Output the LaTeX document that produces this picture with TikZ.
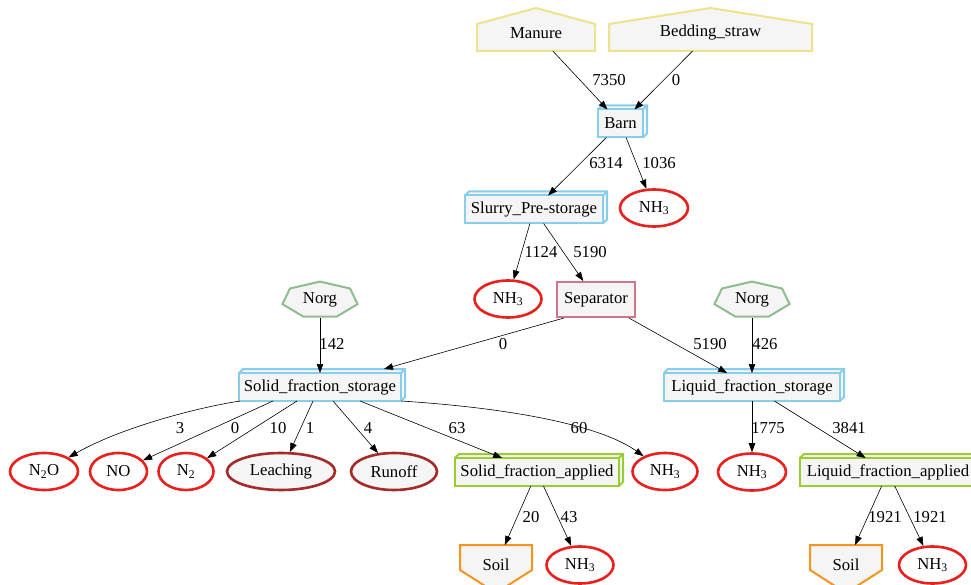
\documentclass[tikz,border=0pt]{standalone}
\usepackage{fontspec}
\setmainfont{Liberation Serif}
\usetikzlibrary{shapes.geometric,arrows.meta,backgrounds,calc}

\definecolor{bgfill}{HTML}{F5F5F5}
\definecolor{housecol}{HTML}{EDE38C}
\definecolor{boxblue}{HTML}{87CEEB}
\definecolor{greenbox}{HTML}{9ACD32}
\definecolor{nhred}{HTML}{E8201E}
\definecolor{brownred}{HTML}{A52A2A}
\definecolor{soilorange}{HTML}{F7941D}
\definecolor{norggreen}{HTML}{8FBC8F}
\definecolor{seppink}{HTML}{D0758E}

\begin{document}
\begin{tikzpicture}[x=1pt,y=-1pt,
  every node/.style={font=\fontsize{16.7}{20}\selectfont},
  lbl/.style={inner sep=0pt},
  flow/.style={draw=black, line width=0.6pt, -{Triangle[length=9pt,width=6.5pt]}},
  box3d/.style={rectangle, draw=#1, line width=2pt, fill=bgfill, inner sep=0pt,
                outer sep=0pt, minimum height=28pt},
  sink/.style={ellipse, draw=#1, line width=2.6pt, fill=white, inner sep=0pt,
               minimum height=37pt},
  shapebox/.style={rectangle, inner sep=0pt, outer sep=0pt},
  houseline/.style={draw=housecol, line width=2pt, fill=bgfill, line join=miter},
  heptline/.style={draw=norggreen, line width=2pt, fill=bgfill},
  soilline/.style={draw=soilorange, line width=2pt, fill=bgfill, line join=miter},
]
\useasboundingbox (0,0) rectangle (971,585);

% ---- nodes ----
\node[shapebox, minimum width=118pt, minimum height=36pt] (manure) at (536,33) {Manure};
\node[shapebox, minimum width=203pt, minimum height=36pt] (bedding) at (710.5,33) {Bedding\_straw};
\node[box3d=boxblue, minimum width=45pt] (barn) at (620.5,123.5) {Barn};
\node[sink=nhred, minimum width=68pt] (nh1) at (654,208) {NH\textsubscript{3}};
\node[box3d=boxblue, minimum width=138pt] (slurry) at (534,209.5) {Slurry\_Pre-storage};
\node[sink=nhred, minimum width=67pt] (nh2) at (508,299) {NH\textsubscript{3}};
\node[rectangle, draw=seppink, line width=2pt, fill=bgfill, inner sep=0pt,
      minimum width=78pt, minimum height=35pt] (sep) at (596,299.5) {Separator};
\node[shapebox, minimum width=75pt, minimum height=35pt] (norg1) at (320,300) {Norg};
\node[shapebox, minimum width=75pt, minimum height=35pt] (norg2) at (752,300) {Norg};
\node[box3d=boxblue, minimum width=162pt] (solid) at (320,387) {Solid\_fraction\_storage};
\node[box3d=boxblue, minimum width=176pt] (liquid) at (752,387) {Liquid\_fraction\_storage};

\node[sink=nhred, minimum width=68pt] (n2o) at (44,471.5) {N\textsubscript{2}O};
\node[sink=nhred, minimum width=57pt] (no) at (118.5,471.5) {NO};
\node[sink=nhred, minimum width=55pt] (n2) at (186,471.5) {N\textsubscript{2}};
\node[sink=brownred, minimum width=108pt, fill=bgfill] (leach) at (281,471.5) {Leaching};
\node[sink=brownred, minimum width=86pt, fill=bgfill] (runoff) at (394,471.5) {Runoff};
\node[box3d=greenbox, minimum width=164pt] (sapp) at (537,472) {Solid\_fraction\_applied};
\node[sink=nhred, minimum width=65pt] (nh3) at (665,471.5) {NH\textsubscript{3}};
\node[sink=nhred, minimum width=68pt] (nh4) at (752,472) {NH\textsubscript{3}};
\node[box3d=greenbox, minimum width=176pt] (lapp) at (888,472) {Liquid\_fraction\_applied};

\node[shapebox, minimum width=72pt, minimum height=40pt] (soil1) at (496,565) {Soil};
\node[sink=nhred, minimum width=67pt] (nh5) at (580,565) {NH\textsubscript{3}};
\node[shapebox, minimum width=72pt, minimum height=40pt] (soil2) at (846,565) {Soil};
\node[sink=nhred, minimum width=67pt] (nh6) at (932.5,565) {NH\textsubscript{3}};

% ---- outlines drawn behind the texts ----
\begin{pgfonlayer}{background}
  \fill[white] (0,0) rectangle (971,585);
  % back faces of the 3d boxes
  \foreach \n/\c in {barn/boxblue,slurry/boxblue,solid/boxblue,liquid/boxblue,sapp/greenbox,lapp/greenbox}
    \filldraw[draw=\c, line width=2pt, fill=bgfill]
      (\n.north west) -- ++(4pt,4pt) -| ([shift={(4pt,4pt)}]\n.south east) -- (\n.south east)
      (\n.north east) -- ++(4pt,4pt);
  \foreach \n in {manure,bedding}
    \filldraw[houseline] (\n.south west) -- (\n.south east) -- ([yshift=27pt]\n.south east)
      -- ([yshift=43pt]\n.south) -- ([yshift=27pt]\n.south west) -- cycle;
  \foreach \n in {norg1,norg2}
    \filldraw[heptline] ([shift={(90:38.5pt and 18.4pt)}]\n.center)
      \foreach \k in {1,...,6}{ -- ([shift={(90+\k*51.4286:38.5pt and 18.4pt)}]\n.center)} -- cycle;
  \foreach \n in {soil1,soil2}
    \filldraw[soilline] (\n.north west) -- (\n.north east) -- ([yshift=-25pt]\n.north east)
      -- ([yshift=-48pt]\n.north) -- ([yshift=-25pt]\n.north west) -- cycle;
\end{pgfonlayer}

% ---- flows ----
\draw[flow] (manure) -- (barn);
\draw[flow] (bedding) -- (barn);
\draw[flow] (barn) -- (slurry);
\draw[flow] (barn) -- (nh1);
\draw[flow] (slurry) -- (nh2);
\draw[flow] (slurry) -- (sep);
\draw[flow] (norg1) -- (solid);
\draw[flow] ([xshift=8pt]sep.south west) -- ([xshift=64pt,yshift=4pt]solid.north);
\draw[flow] (sep) -- (liquid);
\draw[flow] (norg2) -- (liquid);
\draw[flow] ([xshift=-80pt]solid.south) .. controls (195,408) and (120,428) .. (n2o);
\draw[flow] ([xshift=-47pt]solid.south) -- (no);
\draw[flow] ([xshift=-23pt]solid.south) -- (n2);
\draw[flow] ([xshift=-7pt]solid.south) -- (leach);
\draw[flow] ([xshift=13pt]solid.south) -- (runoff);
\draw[flow] ([xshift=40pt]solid.south) -- (sapp);
\draw[flow] (solid.south east) .. controls (510,408) and (600,425) .. (nh3);
\draw[flow] (liquid) -- (nh4);
\draw[flow] (liquid) -- (lapp);
\draw[flow] (sapp) -- (soil1);
\draw[flow] (sapp) -- (nh5);
\draw[flow] (lapp) -- (soil2);
\draw[flow] (lapp) -- (nh6);

% ---- flow amounts ----
\node[lbl] (q1) at (609,80) {7350};
\node[lbl] (q2) at (676,80) {0};
\node[lbl] (q3) at (606,163) {6314};
\node[lbl] (q4) at (659,163) {1036};
\node[lbl] (q5) at (541,252) {1124};
\node[lbl] (q6) at (590,252) {5190};
\node[lbl] (q7) at (332,344) {142};
\node[lbl] (q8) at (503,344) {0};
\node[lbl] (q9) at (710,344) {5190};
\node[lbl] (q10) at (765,344) {426};
\node[lbl] (q11) at (180,428) {3};
\node[lbl] (q12) at (235,428) {0};
\node[lbl] (q13) at (278,428) {10};
\node[lbl] (q14) at (310,428) {1};
\node[lbl] (q15) at (368,428) {4};
\node[lbl] (q16) at (457,428) {63};
\node[lbl] (q17) at (579,428) {60};
\node[lbl] (q18) at (768,428) {1775};
\node[lbl] (q19) at (849,428) {3841};
\node[lbl] (q20) at (531,517) {20};
\node[lbl] (q21) at (569,517) {43};
\node[lbl] (q22) at (885,517) {1921};
\node[lbl] (q23) at (930,517) {1921};
\end{tikzpicture}
\end{document}
